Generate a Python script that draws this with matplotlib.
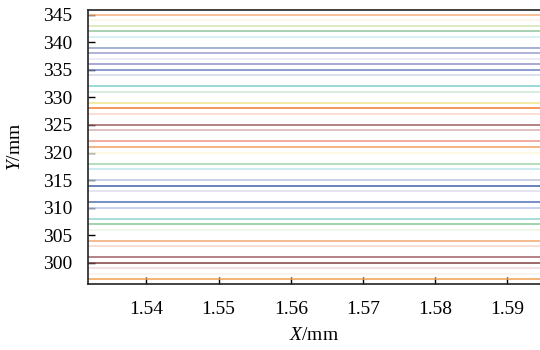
import matplotlib
matplotlib.use("Agg")
import matplotlib.pyplot as plt

# Layer heights (mm) and line colours
levels = [345, 344, 343, 342, 341, 339, 338, 337, 336, 335, 334, 332, 331,
          329, 328, 327, 325, 324, 322, 321, 320, 318, 317, 315, 314, 313,
          311, 310, 308, 307, 306, 304, 303, 301, 300, 299, 298, 297]
colors = ["#f5b07a", "#fbf7e3", "#d4e4b0", "#8fc49d", "#cdeef2", "#8c9dcc",
          "#9c9cd0", "#e8e6f5", "#8e90c8", "#6f82bf", "#d0d8e8", "#80d0d0",
          "#cce8d4", "#efe48a", "#f07a30", "#fcd4cc", "#9c6060", "#d9b0b0",
          "#ee9488", "#f3a060", "#fbf6dc", "#a0d4a8", "#bde4ec", "#b8c4dc",
          "#4060a8", "#dcdcf0", "#5070b8", "#b8c8e8", "#90d4d4", "#88c898",
          "#eef4e4", "#f2a870", "#f8d4c8", "#a06068", "#804040", "#f0d8dc",
          "#fbf0ec", "#f0a050"]
x_range = [1.52, 1.61]
x_ticks = [1.54, 1.55, 1.56, 1.57, 1.58, 1.59]
y_ticks = [300, 305, 310, 315, 320, 325, 330, 335, 340, 345]

plt.rcParams["font.family"] = ["Liberation Serif", "DejaVu Serif"]
plt.rcParams["mathtext.fontset"] = "custom"
plt.rcParams["mathtext.rm"] = "Liberation Serif"
plt.rcParams["mathtext.it"] = "Liberation Serif:italic"

fig = plt.figure(figsize=(5.4, 3.5), dpi=100)
ax = fig.add_axes([88 / 540, 1 - 284 / 350, 459 / 540, 274 / 350])

for lv, c in zip(levels, colors):
    ax.plot(x_range, [lv, lv], color=c, lw=1.1, solid_capstyle="butt")

ax.set_xlim(1.5319, 1.5955)
ax.set_ylim(296.1, 345.9)
ax.set_xticks(x_ticks)
ax.set_xticklabels([f"{t:.2f}" for t in x_ticks])
ax.set_yticks(y_ticks)
ax.set_yticklabels([str(t) for t in y_ticks])
ax.tick_params(direction="in", length=5, width=1.0, labelsize=14,
               colors="black")
ax.tick_params(axis="x", pad=12)
ax.tick_params(axis="y", pad=11.5)
for s in ["left", "bottom", "top"]:
    ax.spines[s].set_linewidth(1.2)
    ax.spines[s].set_color("#222222")
ax.spines["right"].set_visible(False)

ax.set_xlabel(r"$\mathit{X}$/mm", fontsize=14)
ax.set_ylabel(r"$\mathit{Y}$/mm", fontsize=14)
ax.xaxis.set_label_coords((314 - 88) / 459, (284 - 327) / 274)
ax.yaxis.set_label_coords((24 - 88) / 459, 0.5)

fig.savefig("out.png", dpi=100)
